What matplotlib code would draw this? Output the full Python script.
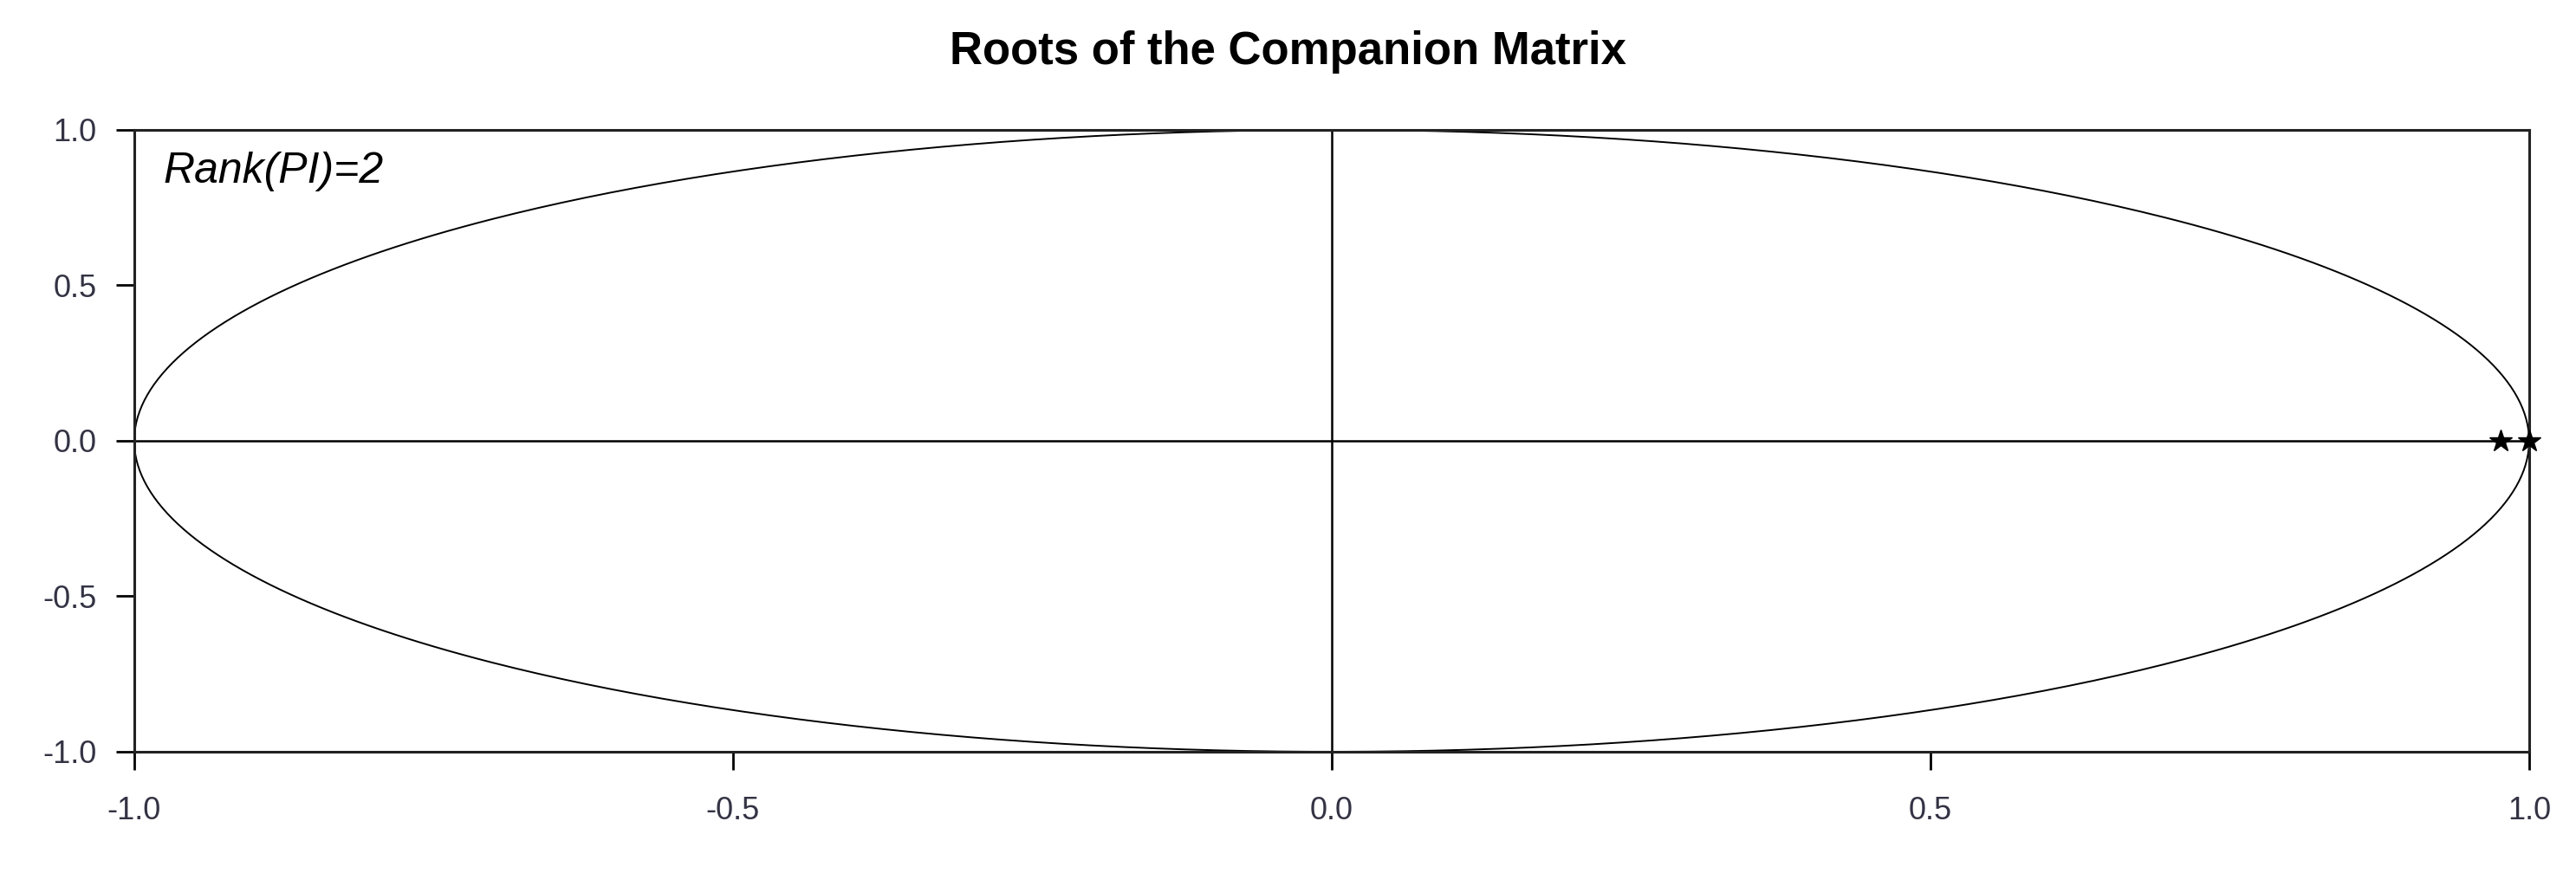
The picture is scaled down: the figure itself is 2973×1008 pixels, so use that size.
import numpy as np
import matplotlib
matplotlib.use("Agg")
import matplotlib.pyplot as plt

plt.rcParams['font.family'] = ['Liberation Sans', 'DejaVu Sans']

# roots of the companion matrix (real, imaginary)
root_re = [0.976, 1.0]
root_im = [0.0, 0.0]
ticks = [-1.0, -0.5, 0.0, 0.5, 1.0]
tick_labels = ["-1.0", "-0.5", "0.0", "0.5", "1.0"]

fig = plt.figure(figsize=(29.73, 10.08), dpi=100)
ax = fig.add_axes([0.0521, 0.1389, 0.9297, 0.7123])

t = np.linspace(0, 2 * np.pi, 721)
ax.plot(np.cos(t), np.sin(t), color='black', lw=1.4)
ax.axhline(0, color='black', lw=1.8)
ax.axvline(0, color='black', lw=1.8)
ax.plot(root_re, root_im, linestyle='none', marker='*', color='black',
        markersize=19, clip_on=False, zorder=5)

ax.set_xlim(-1, 1)
ax.set_ylim(-1, 1)
ax.set_xticks(ticks)
ax.set_xticklabels(tick_labels)
ax.set_yticks(ticks)
ax.set_yticklabels(tick_labels)
ax.tick_params(direction='out', length=15, width=2, colors='black',
               labelsize=26, labelcolor='#333344')
ax.tick_params(axis='x', pad=22)
ax.tick_params(axis='y', pad=16)
for s in ax.spines.values():
    s.set_linewidth(2.2)
    s.set_color('#222222')

ax.text(0.012, 0.965, "Rank(PI)=2", transform=ax.transAxes, style='italic',
        fontsize=36, va='top', ha='left')
fig.suptitle("Roots of the Companion Matrix", fontsize=38, fontweight='bold',
             y=0.965)

fig.savefig("out.png", dpi=100)
